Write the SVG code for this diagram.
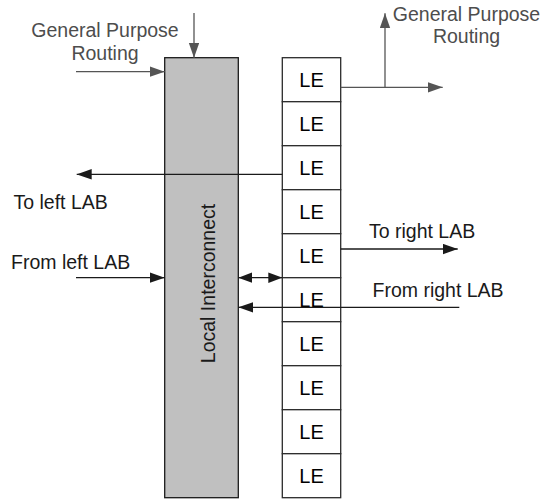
<svg xmlns="http://www.w3.org/2000/svg" width="541" height="499" viewBox="0 0 541 499">
  <style>
    text { font-family: "Liberation Sans", Arial, sans-serif; font-size: 19.5px; }
    .lbl { fill: #1a1a1a; }
    .gpr { fill: #4d4d4d; text-anchor: middle; }
    .le rect { fill: #ffffff; stroke: #2b2b2b; stroke-width: 1.3; }
    .le text { fill: #000000; text-anchor: middle; font-size: 20px; }
    .wire { fill: none; stroke: #1a1a1a; stroke-width: 1.3; }
    .wire.grey { stroke: #555555; }
  </style>
  <defs>
    <marker id="head" markerUnits="userSpaceOnUse" markerWidth="15" markerHeight="11" refX="15" refY="5.25" orient="auto-start-reverse">
      <path d="M0,0 L15,5.25 L0,10.5 z" fill="#1a1a1a"/>
    </marker>
    <marker id="headGrey" markerUnits="userSpaceOnUse" markerWidth="15" markerHeight="11" refX="15" refY="5.25" orient="auto-start-reverse">
      <path d="M0,0 L15,5.25 L0,10.5 z" fill="#555555"/>
    </marker>
    <marker id="headSmall" markerUnits="userSpaceOnUse" markerWidth="14" markerHeight="11" refX="14" refY="5.25" orient="auto-start-reverse">
      <path d="M0,0 L14,5.25 L0,10.5 z" fill="#1a1a1a"/>
    </marker>
  </defs>

  <!-- local interconnect block -->
  <g id="local-interconnect">
    <rect x="164.7" y="57.7" width="73.6" height="440" fill="#c0c0c0" stroke="#1a1a1a" stroke-width="1.3"/>
    <text class="lbl" transform="translate(215,283.5) rotate(-90)" text-anchor="middle">Local Interconnect</text>
  </g>

  <!-- logic element column -->
  <g id="le1" class="le"><rect x="282.3" y="57.7" width="58.4" height="44"/><text x="311.5" y="86.5">LE</text></g>
  <g id="le2" class="le"><rect x="282.3" y="101.7" width="58.4" height="44"/><text x="311.5" y="130.5">LE</text></g>
  <g id="le3" class="le"><rect x="282.3" y="145.7" width="58.4" height="44"/><text x="311.5" y="174.5">LE</text></g>
  <g id="le4" class="le"><rect x="282.3" y="189.7" width="58.4" height="44"/><text x="311.5" y="218.5">LE</text></g>
  <g id="le5" class="le"><rect x="282.3" y="233.7" width="58.4" height="44"/><text x="311.5" y="262.5">LE</text></g>
  <g id="le6" class="le"><rect x="282.3" y="277.7" width="58.4" height="44"/><text x="311.5" y="306.5">LE</text></g>
  <g id="le7" class="le"><rect x="282.3" y="321.7" width="58.4" height="44"/><text x="311.5" y="350.5">LE</text></g>
  <g id="le8" class="le"><rect x="282.3" y="365.7" width="58.4" height="44"/><text x="311.5" y="394.5">LE</text></g>
  <g id="le9" class="le"><rect x="282.3" y="409.7" width="58.4" height="44"/><text x="311.5" y="438.5">LE</text></g>
  <g id="le10" class="le"><rect x="282.3" y="453.7" width="58.4" height="44"/><text x="311.5" y="482.5">LE</text></g>

  <!-- labels -->
  <g id="gpr-in">
    <text class="gpr" x="105" y="37">General Purpose</text>
    <text class="gpr" x="105" y="59.5">Routing</text>
  </g>
  <g id="gpr-out">
    <text class="gpr" x="466.5" y="20.5">General Purpose</text>
    <text class="gpr" x="466.5" y="42.5">Routing</text>
  </g>
  <g id="to-left"><text class="lbl" x="13.5" y="209">To left LAB</text></g>
  <g id="from-left"><text class="lbl" x="11" y="269">From left LAB</text></g>
  <g id="to-right"><text class="lbl" x="369" y="238">To right LAB</text></g>
  <g id="from-right"><text class="lbl" x="372.5" y="296.5">From right LAB</text></g>

  <!-- connectors -->
  <g id="connectors">
    <line class="wire grey" x1="194" y1="13" x2="194" y2="57.7" marker-end="url(#headGrey)"/>
    <line class="wire grey" x1="76" y1="71.7" x2="164.7" y2="71.7" marker-end="url(#headGrey)"/>
    <line class="wire grey" x1="340.7" y1="87.3" x2="442.7" y2="87.3" marker-end="url(#headGrey)"/>
    <line class="wire grey" x1="385" y1="87.3" x2="385" y2="13.3" marker-end="url(#headGrey)"/>
    <line class="wire" x1="282.3" y1="174.3" x2="76.7" y2="174.3" marker-end="url(#head)"/>
    <line class="wire" x1="76" y1="277.7" x2="164.7" y2="277.7" marker-end="url(#head)"/>
    <line class="wire" x1="238.3" y1="277.7" x2="282.3" y2="277.7" marker-start="url(#headSmall)" marker-end="url(#headSmall)"/>
    <line class="wire" x1="340.7" y1="249" x2="457.7" y2="249" marker-end="url(#head)"/>
    <line class="wire" x1="459.3" y1="307.3" x2="238.3" y2="307.3" marker-end="url(#head)"/>
  </g>
</svg>
